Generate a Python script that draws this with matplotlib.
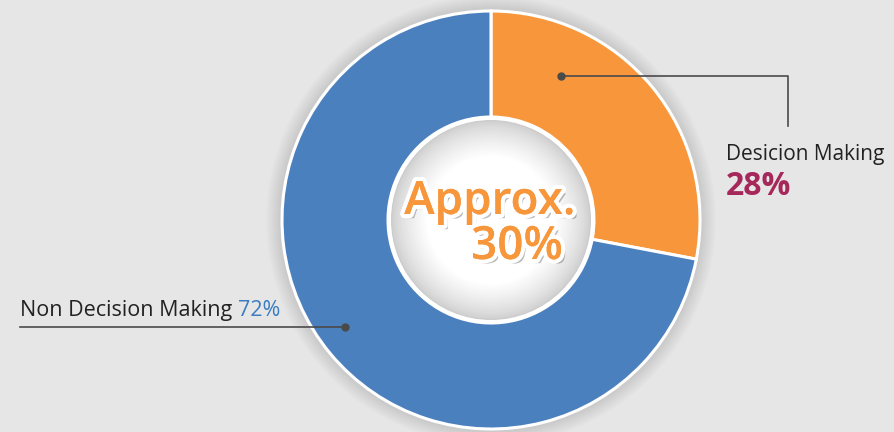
import matplotlib.pyplot as plt
import matplotlib.patheffects as pe
from matplotlib.patches import Circle

# data
labels = ['Desicion Making', 'Non Decision Making']
shares = [28, 72]
colors = ['#F7963A', '#4B80BE']
center_text = ['Approx.', '30%']

bg = '#E6E6E6'
W, H = 894, 432
cx, cy = 491, 432 - 220
r_out = 209
r_in = 103

plt.rcParams['font.family'] = ['Open Sans', 'DejaVu Sans']

fig = plt.figure(figsize=(W / 100, H / 100), dpi=100, facecolor=bg)
ax = fig.add_axes([0, 0, 1, 1])
ax.set_xlim(0, W)
ax.set_ylim(0, H)
ax.set_aspect('equal')
ax.axis('off')
ax.set_facecolor(bg)

# soft shadow around the donut
for i in range(14):
    ax.add_patch(Circle((cx, cy), r_out + 16 - i, color='#9a9a9a', alpha=0.018, lw=0, zorder=1))

wedges, _ = ax.pie(shares, colors=colors, startangle=90, counterclock=False,
                   radius=r_out, center=(cx, cy), frame=True,
                   wedgeprops=dict(width=r_out - r_in, edgecolor='white', linewidth=2.2))
for w in wedges:
    w.set_zorder(2)
ax.set_xlim(0, W)
ax.set_ylim(0, H)
ax.axis('off')

# inner disc with grey rim fading to white
ax.add_patch(Circle((cx, cy), r_in, color='white', lw=0, zorder=3))
n = 30
for i in range(n):
    r = r_in - 3 - i * 1.2
    g = 0.80 + 0.2 * (i / n) ** 0.7
    ax.add_patch(Circle((cx, cy), r, color=(g, g, g), lw=0, zorder=3))
ax.add_patch(Circle((cx, cy), r_in - 3 - n * 1.2, color='white', lw=0, zorder=3))

shadow = [pe.SimplePatchShadow(offset=(3, -3), shadow_rgbFace='#666666', alpha=0.45),
          pe.withStroke(linewidth=6, foreground='white'), pe.Normal()]
ax.text(490, 432 - 214, center_text[0], ha='center', va='baseline', fontsize=33,
        fontweight='semibold', color='#F7963A', zorder=5, path_effects=shadow)
ax.text(563, 432 - 259, center_text[1], ha='right', va='baseline', fontsize=33,
        fontweight='semibold', color='#F7963A', zorder=5, path_effects=shadow)

# callout for Desicion Making
lc = '#4a4a4a'
ax.plot([561, 788, 788], [432 - 76, 432 - 76, 432 - 126], color=lc, lw=1.2, zorder=4)
ax.plot(561, 432 - 76, 'o', color=lc, ms=5, zorder=4)
ax.text(726, 432 - 160, labels[0], fontsize=15, color='#222222', va='baseline', zorder=4)
ax.text(726, 432 - 195, f'{shares[0]}%', fontsize=23, fontweight='bold', color='#A6285A',
        va='baseline', zorder=4)

# callout for Non Decision Making
ax.plot([20, 345], [432 - 327, 432 - 327], color=lc, lw=1.2, zorder=4)
ax.plot(345, 432 - 327, 'o', color=lc, ms=5, zorder=4)
t = ax.text(20, 432 - 316, labels[1] + ' ', fontsize=15.5, color='#222222', va='baseline', zorder=4)
fig.canvas.draw()
bb = t.get_window_extent().transformed(ax.transData.inverted())
ax.text(bb.x1, 432 - 316, f'{shares[1]}%', fontsize=15.5, color='#3A7DC0', va='baseline', zorder=4)

fig.savefig('out.png', dpi=100, facecolor=bg)
